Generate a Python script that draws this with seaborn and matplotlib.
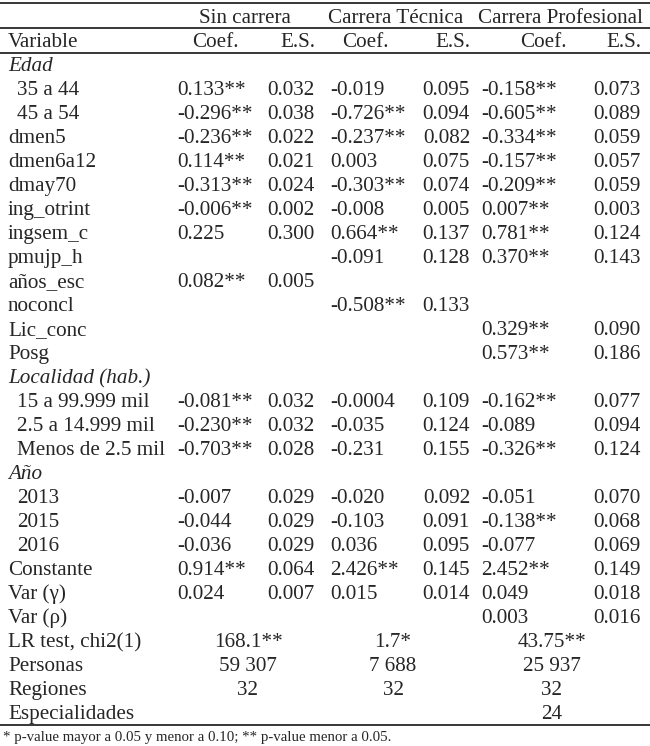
import pandas as pd
from matplotlib import pyplot as plt
import seaborn as sns

groups = ["Sin carrera", "Carrera Técnica", "Carrera Profesional"]

variables = ["Edad", "35 a 44", "45 a 54", "dmen5", "dmen6a12", "dmay70",
             "ing_otrint", "ingsem_c", "pmujp_h", "años_esc", "noconcl",
             "Lic_conc", "Posg", "Localidad (hab.)", "15 a 99.999 mil",
             "2.5 a 14.999 mil", "Menos de 2.5 mil", "Año", "2013", "2015",
             "2016", "Constante", "Var (γ)", "Var (ρ)"]
italic_rows = ["Edad", "Localidad (hab.)", "Año"]
indented_rows = ["35 a 44", "45 a 54", "15 a 99.999 mil", "2.5 a 14.999 mil",
                 "Menos de 2.5 mil", "2013", "2015", "2016"]

coef_sin = ["", "0.133**", "-0.296**", "-0.236**", "0.114**", "-0.313**",
            "-0.006**", "0.225", "", "0.082**", "", "", "", "", "-0.081**",
            "-0.230**", "-0.703**", "", "-0.007", "-0.044", "-0.036",
            "0.914**", "0.024", ""]
se_sin = ["", "0.032", "0.038", "0.022", "0.021", "0.024", "0.002", "0.300",
          "", "0.005", "", "", "", "", "0.032", "0.032", "0.028", "", "0.029",
          "0.029", "0.029", "0.064", "0.007", ""]
coef_tec = ["", "-0.019", "-0.726**", "-0.237**", "0.003", "-0.303**",
            "-0.008", "0.664**", "-0.091", "", "-0.508**", "", "", "",
            "-0.0004", "-0.035", "-0.231", "", "-0.020", "-0.103", "0.036",
            "2.426**", "0.015", ""]
se_tec = ["", "0.095", "0.094", "0.082", "0.075", "0.074", "0.005", "0.137",
          "0.128", "", "0.133", "", "", "", "0.109", "0.124", "0.155", "",
          "0.092", "0.091", "0.095", "0.145", "0.014", ""]
coef_pro = ["", "-0.158**", "-0.605**", "-0.334**", "-0.157**", "-0.209**",
            "0.007**", "0.781**", "0.370**", "", "", "0.329**", "0.573**", "",
            "-0.162**", "-0.089", "-0.326**", "", "-0.051", "-0.138**",
            "-0.077", "2.452**", "0.049", "0.003"]
se_pro = ["", "0.073", "0.089", "0.059", "0.057", "0.059", "0.003", "0.124",
          "0.143", "", "", "0.090", "0.186", "", "0.077", "0.094", "0.124", "",
          "0.070", "0.068", "0.069", "0.149", "0.018", "0.016"]

summary_labels = ["LR test, chi2(1)", "Personas", "Regiones", "Especialidades"]
summary_sin = ["168.1**", "59 307", "32", ""]
summary_tec = ["1.7*", "7 688", "32", ""]
summary_pro = ["43.75**", "25 937", "32", "24"]

footnote = "* p-value mayor a 0.05 y menor a 0.10; ** p-value menor a 0.05."

table_df = pd.DataFrame({
    "variable": variables,
    "coef_sin": coef_sin, "se_sin": se_sin,
    "coef_tec": coef_tec, "se_tec": se_tec,
    "coef_pro": coef_pro, "se_pro": se_pro,
})
summary_df = pd.DataFrame({
    "variable": summary_labels,
    "sin": summary_sin, "tec": summary_tec, "pro": summary_pro,
})

sns.set_theme(style="white")
plt.rcParams["font.family"] = ["Liberation Serif", "DejaVu Serif"]
fs = 15.2

fig = plt.figure(figsize=(6.5, 7.46), dpi=100)
ax = fig.add_axes([0, 0, 1, 1])
ax.set_xlim(0, 650)
ax.set_ylim(746, 0)
ax.axis("off")

row_h = 24
def base(i):
    return 16 + row_h * i + 7

# column anchors
coef_x = [177, 330, 481]
se_x = [315, 470, 641]
coefhead_x = [215, 365, 543]
group_x = [245, 396, 560]
summary_x = [248, 393, 552]

# rules
for y in [2.5, 28, 52.5, 725]:
    ax.plot([0, 650], [y, y], color="black", lw=1.1, solid_capstyle="butt")

# header rows
for g, x in zip(groups, group_x):
    ax.text(x, base(0), g, ha="center", va="baseline", fontsize=fs)
ax.text(8, base(1), "Variable", ha="left", va="baseline", fontsize=fs)
for k in range(3):
    ax.text(coefhead_x[k], base(1), "Coef.", ha="center", va="baseline", fontsize=fs)
    ax.text(se_x[k], base(1), "E.S.", ha="right", va="baseline", fontsize=fs)

# body
cols = [("coef_sin", "se_sin"), ("coef_tec", "se_tec"), ("coef_pro", "se_pro")]
for i, row in table_df.iterrows():
    y = base(i + 2)
    name = row["variable"]
    style = "italic" if name in italic_rows else "normal"
    x0 = 17 if name in indented_rows else 8
    ax.text(x0, y, name, ha="left", va="baseline", fontsize=fs, style=style)
    for k, (c, s) in enumerate(cols):
        ax.text(coef_x[k], y, row[c], ha="left", va="baseline", fontsize=fs)
        ax.text(se_x[k], y, row[s], ha="right", va="baseline", fontsize=fs)

# summary rows
start = len(table_df) + 2
for j, row in summary_df.iterrows():
    y = base(start + j)
    ax.text(8, y, row["variable"], ha="left", va="baseline", fontsize=fs)
    for k, c in enumerate(["sin", "tec", "pro"]):
        ax.text(summary_x[k], y, row[c], ha="center", va="baseline", fontsize=fs)

ax.text(3, 741, footnote, ha="left", va="baseline", fontsize=10.7)

fig.savefig("out.png", dpi=100, facecolor="white")
